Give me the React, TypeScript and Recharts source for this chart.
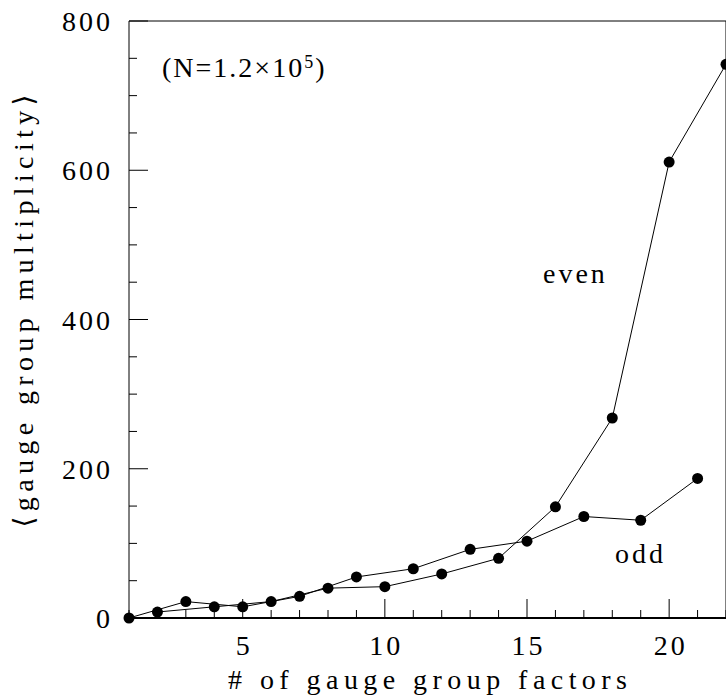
import React from 'react';
import { LineChart, Line, XAxis, YAxis } from 'recharts';

// values
const oddFactors = [1, 3, 5, 7, 9, 11, 13, 15, 17, 19, 21];
const oddMultiplicity = [0, 22, 15, 29, 55, 66, 92, 103, 136, 131, 187];
const evenFactors = [2, 4, 6, 8, 10, 12, 14, 16, 18, 20, 22];
const evenMultiplicity = [8, 15, 22, 40, 42, 59, 80, 149, 268, 611, 742];

const xTicks = [1, 2, 3, 4, 5, 6, 7, 8, 9, 10, 11, 12, 13, 14, 15, 16, 17, 18, 19, 20, 21, 22];
const xLabelled = [5, 10, 15, 20];
const yTicks = [0, 50, 100, 150, 200, 250, 300, 350, 400, 450, 500, 550, 600, 650, 700, 750, 800];
const yLabelled = [0, 200, 400, 600, 800];

const oddData = oddFactors.map((x, i) => ({ x, y: oddMultiplicity[i] }));
const evenData = evenFactors.map((x, i) => ({ x, y: evenMultiplicity[i] }));

const FONT = '"Liberation Serif", "DejaVu Serif", serif';
const MAJOR = 19;
const MINOR = 8;

const textStyle = { fontFamily: FONT, fontSize: 28, letterSpacing: 3, fill: '#000' };

// ticks point inward, labels only on the bottom/left axes
const BottomTick = (props: any) => {
  const { x, y, payload } = props;
  const major = xLabelled.includes(payload.value);
  return (
    <g>
      <line x1={x} y1={y} x2={x} y2={y - (major ? MAJOR : MINOR)} stroke="#000" strokeWidth={1} />
      {major && (
        <text x={x + 1.5} y={y + 37} textAnchor="middle" style={textStyle}>
          {payload.value}
        </text>
      )}
    </g>
  );
};

const TopTick = (props: any) => {
  const { x, y, payload } = props;
  const major = xLabelled.includes(payload.value);
  return <line x1={x} y1={y} x2={x} y2={y + (major ? MAJOR : MINOR)} stroke="#000" strokeWidth={1} />;
};

const LeftTick = (props: any) => {
  const { x, y, payload } = props;
  const major = yLabelled.includes(payload.value);
  return (
    <g>
      <line x1={x} y1={y} x2={x + (major ? MAJOR : MINOR)} y2={y} stroke="#000" strokeWidth={1} />
      {major && (
        <text x={x - 16} y={y + 10} textAnchor="end" style={textStyle}>
          {payload.value}
        </text>
      )}
    </g>
  );
};

const RightTick = (props: any) => {
  const { x, y, payload } = props;
  const major = yLabelled.includes(payload.value);
  return <line x1={x} y1={y} x2={x - (major ? MAJOR : MINOR)} y2={y} stroke="#000" strokeWidth={1} />;
};

const dotStyle = { r: 5.5, fill: '#000', stroke: '#000', strokeWidth: 0 };

export default function App() {
  return (
    <div style={{ position: 'absolute', left: 0, top: 0, width: 726, height: 698, overflow: 'hidden', background: '#fff' }}>
      <LineChart width={740} height={698} margin={{ top: 20, right: 13, bottom: 79, left: 128 }}>
        <XAxis
          xAxisId="b"
          dataKey="x"
          type="number"
          domain={[1, 22]}
          ticks={xTicks}
          interval={0}
          height={1}
          tickSize={0}
          tickMargin={0}
          tickLine={false}
          axisLine={{ stroke: '#000', strokeWidth: 2 }}
          tick={(p: any) => <BottomTick {...p} />}
        />
        <XAxis
          xAxisId="t"
          orientation="top"
          dataKey="x"
          type="number"
          domain={[1, 22]}
          ticks={xTicks}
          interval={0}
          height={1}
          tickSize={0}
          tickMargin={0}
          tickLine={false}
          axisLine={{ stroke: '#000', strokeWidth: 1 }}
          tick={(p: any) => <TopTick {...p} />}
        />
        <YAxis
          yAxisId="l"
          type="number"
          domain={[0, 800]}
          ticks={yTicks}
          interval={0}
          width={1}
          tickSize={0}
          tickMargin={0}
          tickLine={false}
          axisLine={{ stroke: '#000', strokeWidth: 1 }}
          tick={(p: any) => <LeftTick {...p} />}
        />
        <YAxis
          yAxisId="r"
          orientation="right"
          type="number"
          domain={[0, 800]}
          ticks={yTicks}
          interval={0}
          width={1}
          tickSize={0}
          tickMargin={0}
          tickLine={false}
          axisLine={{ stroke: '#000', strokeWidth: 1 }}
          tick={(p: any) => <RightTick {...p} />}
        />
        <Line
          xAxisId="b"
          yAxisId="l"
          data={oddData}
          dataKey="y"
          type="linear"
          stroke="#000"
          strokeWidth={1}
          dot={dotStyle}
          activeDot={false}
          isAnimationActive={false}
        />
        <Line
          xAxisId="b"
          yAxisId="l"
          data={evenData}
          dataKey="y"
          type="linear"
          stroke="#000"
          strokeWidth={1}
          dot={dotStyle}
          activeDot={false}
          isAnimationActive={false}
        />
      </LineChart>
      <svg width={726} height={698} style={{ position: 'absolute', left: 0, top: 0, pointerEvents: 'none' }}>
        <text x={427.5} y={689} textAnchor="middle" textLength={399} lengthAdjust="spacing" style={{ ...textStyle, letterSpacing: 0 }}>
          # of gauge group factors
        </text>
        <text
          transform="translate(33, 311) rotate(-90)"
          textAnchor="middle"
          textLength={433}
          lengthAdjust="spacing"
          style={{ ...textStyle, letterSpacing: 0 }}
        >
          ⟨gauge group multiplicity⟩
        </text>
        <text x={162} y={77} style={{ ...textStyle, letterSpacing: 2 }}>
          (N=1.2×10<tspan dy={-9} fontSize={18}>5</tspan>
          <tspan dy={9}>)</tspan>
        </text>
        <text x={543} y={283} style={textStyle}>
          even
        </text>
        <text x={615} y={563} style={textStyle}>
          odd
        </text>
      </svg>
    </div>
  );
}
